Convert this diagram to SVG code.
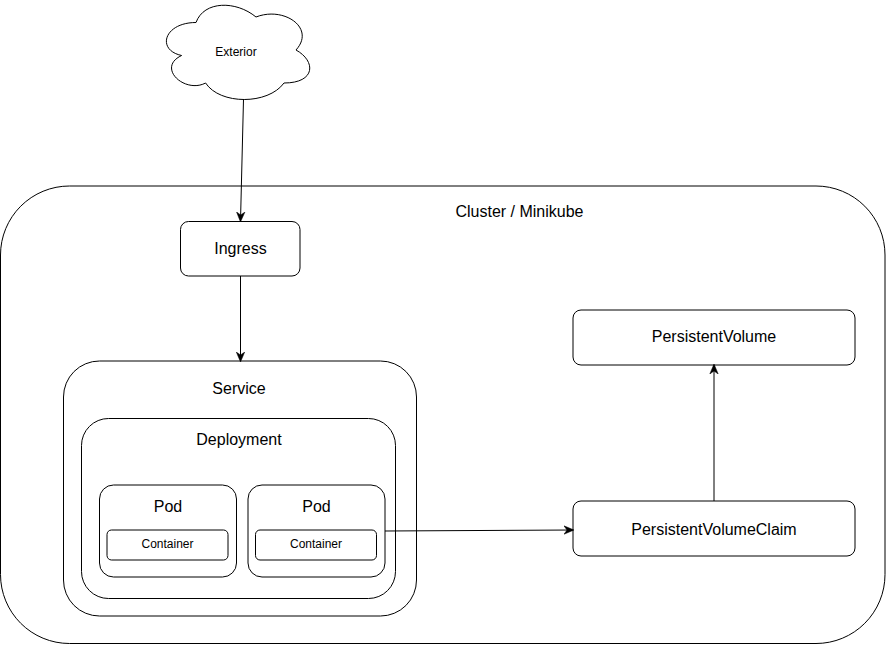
<svg xmlns="http://www.w3.org/2000/svg" width="886" height="645" viewBox="0 0 886 645">
  <style>
    .box { fill: #ffffff; stroke: #000000; stroke-width: 1; }
    .lbl { font-family: "Liberation Sans", Arial, sans-serif; font-size: 16px; fill: #000000; text-anchor: middle; }
    .sm { font-family: "Liberation Sans", Arial, sans-serif; font-size: 12px; fill: #000000; text-anchor: middle; }
    .edge { fill: none; stroke: #000000; stroke-width: 1; }
  </style>
  <defs>
    <marker id="arrow" viewBox="0 0 10 10" refX="9" refY="5" markerWidth="10" markerHeight="10" markerUnits="userSpaceOnUse" orient="auto">
      <path d="M0,0.8 L10,5 L0,9.2 L3,5 Z" fill="#000000" stroke="#000000" stroke-width="0.5"/>
    </marker>
  </defs>
  <rect width="886" height="645" fill="#ffffff"/>

  <g id="cluster">
    <rect class="box" x="0.5" y="186" width="884.5" height="457.5" rx="69" ry="69"/>
    <text class="lbl" x="519.5" y="217">Cluster / Minikube</text>
  </g>

  <g id="exterior">
    <path class="box" d="M196,22.5 C164,22.5 156,50 181.6,55.5 C156,67.6 184.8,94 205.6,83 C220,105 268,105 284,83 C316,83 316,61 296,50 C316,28 284,6 256,17 C236,0.5 204,0.5 196,22.5 Z"/>
    <text class="sm" x="236" y="56">Exterior</text>
  </g>

  <g id="ingress">
    <rect class="box" x="180.5" y="221.5" width="119.5" height="54.5" rx="8" ry="8"/>
    <text class="lbl" x="240.5" y="254">Ingress</text>
  </g>

  <g id="service">
    <rect class="box" x="63.5" y="361" width="353" height="255" rx="36" ry="36"/>
    <text class="lbl" x="239" y="394">Service</text>
  </g>

  <g id="deployment">
    <rect class="box" x="81.5" y="418.5" width="314" height="180" rx="27" ry="27"/>
    <text class="lbl" x="239" y="445">Deployment</text>
  </g>

  <g id="pod1">
    <rect class="box" x="99.5" y="485" width="137" height="92" rx="14" ry="14"/>
    <text class="lbl" x="168" y="512">Pod</text>
  </g>
  <g id="container1">
    <rect class="box" x="107" y="530" width="121" height="30" rx="4.5" ry="4.5"/>
    <text class="sm" x="167.5" y="548">Container</text>
  </g>

  <g id="pod2">
    <rect class="box" x="248" y="485" width="137" height="92" rx="14" ry="14"/>
    <text class="lbl" x="316.5" y="512">Pod</text>
  </g>
  <g id="container2">
    <rect class="box" x="255.5" y="530" width="121" height="30" rx="4.5" ry="4.5"/>
    <text class="sm" x="316" y="548">Container</text>
  </g>

  <g id="persistentvolume">
    <rect class="box" x="573" y="310" width="282" height="55" rx="8" ry="8"/>
    <text class="lbl" x="714" y="342">PersistentVolume</text>
  </g>

  <g id="persistentvolumeclaim">
    <rect class="box" x="573" y="501" width="282" height="55" rx="8" ry="8"/>
    <text class="lbl" x="714" y="535">PersistentVolumeClaim</text>
  </g>

  <g id="connectors">
    <path class="edge" d="M243.5,99 L240.5,221" marker-end="url(#arrow)"/>
    <path class="edge" d="M240.5,276 L240.5,361" marker-end="url(#arrow)"/>
    <path class="edge" d="M385,531 L573,530" marker-end="url(#arrow)"/>
    <path class="edge" d="M714,501 L714,365" marker-end="url(#arrow)"/>
  </g>
</svg>
